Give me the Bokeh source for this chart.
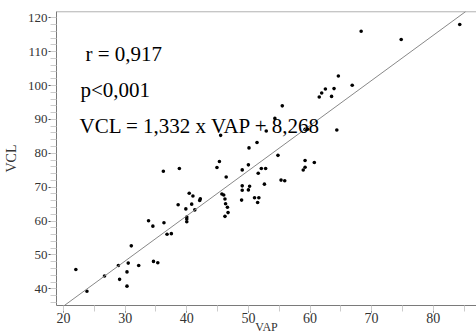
from bokeh.plotting import figure
from bokeh.models import SingleIntervalTicker, Span, Slope, Label, ColumnDataSource, Range1d
from bokeh.embed import file_html
from bokeh.resources import INLINE

vap = [22.0, 23.8, 26.65, 28.9, 29.1, 30.3, 30.5, 30.3, 31.0, 32.2,
       34.6, 35.3, 33.8, 34.5, 36.3, 36.8, 37.5, 38.6, 39.85, 40.4,
       41.0, 40.8, 42.1, 42.2, 41.3, 40.0, 40.0, 40.0, 36.2, 38.8,
       45.5, 45.3, 44.9, 46.4, 45.7, 46.0, 46.2, 46.3, 46.6, 46.7,
       46.2, 49.0, 50.0, 50.1, 51.4, 52.9, 54.8, 52.1, 52.8, 51.6,
       49.0, 49.0, 50.2, 50.0, 48.9, 52.6, 51.0, 51.7, 51.5, 55.3,
       55.9, 58.9, 59.2, 59.2, 60.7, 59.2, 59.6, 54.3, 55.5, 64.6,
       66.85, 62.5, 63.9, 61.9, 61.5, 63.5, 64.35, 68.3, 74.8, 84.3]
vcl = [45.7, 39.3, 43.8, 46.9, 42.8, 45.0, 47.6, 40.8, 52.7, 46.9,
       48.1, 47.7, 60.1, 58.5, 59.5, 56.1, 56.3, 64.8, 63.6, 68.2,
       67.4, 65.0, 66.1, 66.6, 63.3, 61.2, 60.6, 59.8, 74.7, 75.5,
       85.3, 77.6, 75.8, 73.0, 68.0, 67.7, 66.5, 65.1, 64.1, 62.5,
       61.4, 75.1, 76.6, 81.6, 83.2, 86.6, 79.4, 75.5, 75.5, 74.1,
       70.4, 69.1, 70.3, 69.2, 66.2, 70.9, 66.9, 66.9, 65.5, 72.1,
       71.9, 75.1, 75.9, 77.9, 77.3, 87.1, 87.1, 90.3, 94.0, 102.8,
       100.1, 99.0, 99.1, 97.8, 96.6, 96.8, 86.9, 116.0, 113.6, 118.0]

slope = 1.332
intercept = 8.268
stat_lines = ["r = 0,917", "p<0,001", "VCL = 1,332 x VAP + 8,268"]
stat_x = [23.57, 22.76, 22.6]
stat_y = [109.35, 98.6, 88.0]

x_start, x_end = 18.86, 87.02
y_start, y_end = 35.09, 121.85

serif = "Liberation Serif"

p = figure(width=476, height=336, output_backend="svg", toolbar_location=None,
           title=None, x_range=Range1d(x_start, x_end), y_range=Range1d(y_start, y_end),
           min_border_left=56, min_border_right=0, min_border_top=11, min_border_bottom=30)
p.outline_line_color = None
p.background_fill_color = "white"
p.border_fill_color = "white"
p.grid.visible = False

p.xaxis.ticker = SingleIntervalTicker(interval=10, num_minor_ticks=2)
p.yaxis.ticker = SingleIntervalTicker(interval=10, num_minor_ticks=5)
for ax in (p.xaxis, p.yaxis):
    ax.axis_line_color = "#7a7a7a"
    ax.major_tick_line_color = "#555555"
    ax.minor_tick_line_color = "#cccccc"
    ax.major_tick_in = 0
    ax.minor_tick_in = 0
    ax.major_label_text_font = serif
    ax.major_label_text_color = "#333333"
    ax.axis_label_text_font = serif
    ax.axis_label_text_font_style = "normal"
    ax.axis_label_text_color = "#333333"
p.xaxis.major_tick_out = 7
p.xaxis.minor_tick_out = 6
p.yaxis.major_tick_out = 8
p.yaxis.minor_tick_out = 6
p.xaxis.major_label_text_font_size = "14px"
p.yaxis.major_label_text_font_size = "13px"
p.xaxis.major_label_standoff = 0
p.yaxis.major_label_standoff = 1

p.yaxis.axis_label = "VCL"
p.yaxis.axis_label_text_font_size = "14px"
p.yaxis.axis_label_standoff = 6

p.xaxis.axis_label = "VAP"
p.xaxis.axis_label_text_font_size = "12px"
p.xaxis.axis_label_standoff = -6

p.add_layout(Span(location=y_end - 0.05, dimension="width", line_color="#7a7a7a", line_width=1))
p.add_layout(Slope(gradient=slope, y_intercept=intercept, line_color="#888888", line_width=1))

src = ColumnDataSource(dict(x=vap, y=vcl))
p.scatter("x", "y", source=src, size=3.6, marker="circle", fill_color="black", line_color=None)

for t, tx, ty in zip(stat_lines, stat_x, stat_y):
    p.add_layout(Label(x=tx, y=ty, text=t, text_font=serif, text_font_size="21px",
                       text_color="black", text_align="left", text_baseline="alphabetic"))

open("out.html", "w").write(file_html(p, INLINE))
